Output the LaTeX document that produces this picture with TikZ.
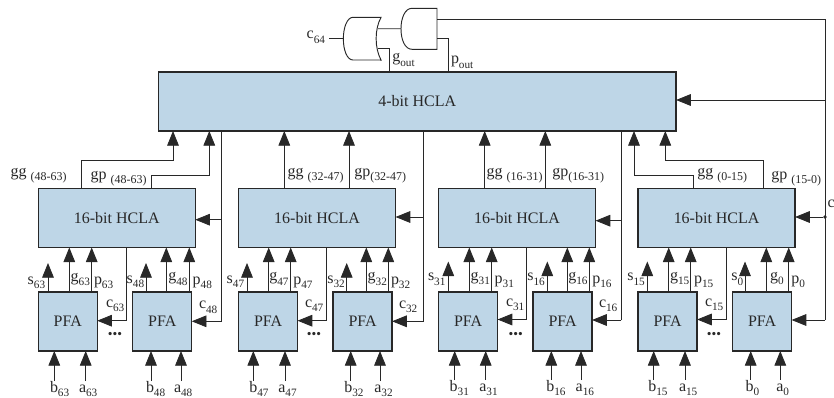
\documentclass[tikz,border=0pt]{standalone}
\usepackage{fontspec}
\setmainfont{Liberation Serif}
\usepackage{xcolor}
\usetikzlibrary{positioning,arrows.meta}
\definecolor{boxcolor}{RGB}{190,214,231}
\definecolor{inkcolor}{RGB}{40,40,40}
\newcommand{\lsub}[2]{#1\raisebox{-4pt}{\fontsize{9.6}{11}\selectfont #2}}
\newcommand{\lgrp}[2]{#1\raisebox{-3pt}{\fontsize{10.2}{12}\selectfont #2}}

\begin{document}
\begin{tikzpicture}[x=0.03cm,y=-0.03cm,
font=\fontsize{13.65}{15}\selectfont,text=inkcolor,
box/.style={draw=inkcolor,fill=boxcolor,line width=1.2pt,outer sep=0pt,inner sep=0pt,minimum height=1.77cm},
hcla/.style={box,minimum width=4.71cm},
pfa/.style={box,minimum width=1.77cm},
lbl/.style={anchor=base west,inner sep=0pt,outer sep=0pt},
gate/.style={inner sep=0pt,outer sep=0pt},
wire/.style={draw=inkcolor,line width=0.7pt},
gline/.style={draw=inkcolor,line width=0.8pt},
arr/.style={wire,-{Triangle[length=0.44cm,width=0.35cm]}},
joint/.style={circle,fill=inkcolor,inner sep=0pt,minimum size=0.11cm},
more/.style={inner sep=0pt,font=\fontsize{11.5}{12}\selectfont}]
\useasboundingbox (0,0) rectangle (834,398);
\node[box,minimum width=15.53cm] (top) at (417.25,101.5) {4-bit HCLA};
\node[hcla] (h48) at (116.75,218) {16-bit HCLA};
\node[hcla,right=1.3cm of h48] (h32) {16-bit HCLA};
\node[hcla,right=1.29cm of h32] (h16) {16-bit HCLA};
\node[hcla,right=1.275cm of h16] (h0) {16-bit HCLA};
\node[pfa,below right=1.335cm and 0cm of h48.south west] (p63) {PFA};
\node[pfa,right=1.065cm of p63] (p48) {PFA};
\node[pfa,below right=1.335cm and 0cm of h32.south west] (p47) {PFA};
\node[pfa,right=1.065cm of p47] (p32) {PFA};
\node[pfa,below right=1.335cm and 0cm of h16.south west] (p31) {PFA};
\node[pfa,right=1.065cm of p31] (p16) {PFA};
\node[pfa,below right=1.335cm and 0cm of h0.south west] (p15) {PFA};
\node[pfa,right=1.065cm of p15] (p0) {PFA};
\node[more] (d63) at (115,335.3) {•••};
\node[more] (d47) at (314,335.3) {•••};
\node[more] (d31) at (515.7,335.3) {•••};
\node[more] (d15) at (714,335.3) {•••};

\node[gate,minimum width=1.13cm,minimum height=1.28cm] (org) at (362.2,38.7) {};
\node[gate,minimum width=1.08cm,minimum height=1.23cm] (andg) at (419,28.8) {};
\draw[gline] (org.north east) -- (353,17.3) .. controls (347,17.3) and (343.3,28) .. (org.west) .. controls (343.3,50) and (347,60) .. (353,60) -- (org.south east) .. controls (374.5,48) and (374.5,29) .. (org.north east) -- cycle;
\draw[gline] (andg.north east) -- (412,8.3) .. controls (405,8.3) and (401,18) .. (andg.west) .. controls (401,40) and (405,49.3) .. (412,49.3) -- (andg.south east) -- cycle;
\coordinate (orin1) at (378,28.7);
\coordinate (orin2) at (378,48);
\coordinate (andin1) at (437,19);
\coordinate (andin2) at (437,38.5);
\coordinate (ctop) at (825,100);
\coordinate (cbot) at (825,320);
\node[joint] (cin) at (825,217) {};
\node[lbl] (c64) at (306.7,39) {\lsub{c}{64}};
\node[lbl] (gout) at (392.3,62) {\lsub{g}{out}};
\node[lbl] (pout) at (451,64) {\lsub{p}{out}};
\node[lbl] (cinl) at (827.5,207.3) {c};
\draw[wire] (c64.east |- org.west) ++(3.4pt,0) -- (org.west);
\draw[wire] (andg.west) -- (orin1);
\draw[wire] (389.3,0 |- top.north) |- (orin2);
\draw[wire] (448.5,0 |- top.north) |- (andin2);
\draw[wire] (andin1) -| (cbot);
\draw[arr] (ctop) -- (top.east |- ctop);
\draw[arr] (cin) -- (h0.east |- cin);
\draw[arr] (cbot) -- (p0.east |- cbot);

\node[lbl] (gg48) at (10.7,177) {\lgrp{gg\ }{(48-63)}};
\node[lbl] (gp48) at (90.7,180) {\lgrp{gp\ }{(48-63)}};
\node[lbl] (gg32) at (287.7,177) {\lgrp{gg\ }{(32-47)}};
\node[lbl] (gp32) at (354.3,177) {\lgrp{gp}{(32-47)}};
\node[lbl] (gg16) at (486.7,177) {\lgrp{gg\ }{(16-31)}};
\node[lbl] (gp16) at (552.3,177) {\lgrp{gp}{(16-31)}};
\node[lbl] (gg0) at (697.3,177) {\lgrp{gg\ }{(0-15)}};
\node[lbl] (gp0) at (771.3,180) {\lgrp{gp\ }{(15-0)}};
\draw[arr] (81.3,0 |- h48.north) |- (173,160) -- (173,0 |- top.south);
\draw[arr] (151.3,0 |- h48.north) |- (209.3,175.3) -- (209.3,0 |- top.south);
\draw[arr] (284.3,0 |- h32.north) -- (284.3,0 |- top.south);
\draw[arr] (349,0 |- h32.north) -- (349,0 |- top.south);
\draw[arr] (484.7,0 |- h16.north) -- (484.7,0 |- top.south);
\draw[arr] (545.3,0 |- h16.north) -- (545.3,0 |- top.south);
\draw[arr] (693.3,0 |- h0.north) |- (634,175) -- (634,0 |- top.south);
\draw[arr] (763.7,0 |- h0.north) |- (665.3,160) -- (665.3,0 |- top.south);

\draw[wire] (221.7,0 |- top.south) -- (221.7,321.3);
\draw[arr] (221.7,219.7) -- (h48.east |- 0,219.7);
\draw[arr] (221.7,321.3) -- (p48.east |- 0,321.3);
\draw[wire] (423.7,0 |- top.south) -- (423.7,321.3);
\draw[arr] (423.7,217) -- (h32.east |- 0,217);
\draw[arr] (423.7,321.3) -- (p32.east |- 0,321.3);
\draw[wire] (621.3,0 |- top.south) -- (621.3,320);
\draw[arr] (621.3,220.7) -- (h16.east |- 0,220.7);
\draw[arr] (621.3,320) -- (p16.east |- 0,320);
\draw[arr] (126.3,0 |- h48.south) |- (p63.east |- 0,320.7);
\draw[arr] (326.3,0 |- h32.south) |- (p47.east |- 0,320.7);
\draw[arr] (526.7,0 |- h16.south) |- (p31.east |- 0,319.5);
\draw[arr] (726.7,0 |- h0.south) |- (p15.east |- 0,319.5);
\node[lbl] (c63) at (106,307.3) {\lsub{c}{63}};
\node[lbl] (c48) at (199,308.7) {\lsub{c}{48}};
\node[lbl] (c47) at (305,307) {\lsub{c}{47}};
\node[lbl] (c32) at (399,308) {\lsub{c}{32}};
\node[lbl] (c31) at (506,306.3) {\lsub{c}{31}};
\node[lbl] (c16) at (599,307.3) {\lsub{c}{16}};
\node[lbl] (c15) at (705,306.3) {\lsub{c}{15}};

\node[lbl] (s63) at (27.7,284) {\lsub{s}{63}};
\node[lbl] (g63) at (70.7,281.3) {\lsub{g}{63}};
\node[lbl] (t63) at (94,284) {\lsub{p}{63}};
\node[lbl] (s48) at (126.7,283) {\lsub{s}{48}};
\node[lbl] (g48) at (168.3,281) {\lsub{g}{48}};
\node[lbl] (t48) at (192.7,284) {\lsub{p}{48}};
\node[lbl] (s47) at (226.7,283) {\lsub{s}{47}};
\node[lbl] (g47) at (269.3,281) {\lsub{g}{47}};
\node[lbl] (t47) at (293.3,284) {\lsub{p}{47}};
\node[lbl] (s32) at (327.3,283) {\lsub{s}{32}};
\node[lbl] (g32) at (367.7,281) {\lsub{g}{32}};
\node[lbl] (t32) at (391,284) {\lsub{p}{32}};
\node[lbl] (s31) at (428,281) {\lsub{s}{31}};
\node[lbl] (g31) at (470.7,280) {\lsub{g}{31}};
\node[lbl] (t31) at (494.7,283) {\lsub{p}{31}};
\node[lbl] (s16) at (527.3,281) {\lsub{s}{16}};
\node[lbl] (g16) at (568.3,280) {\lsub{g}{16}};
\node[lbl] (t16) at (592.3,283) {\lsub{p}{16}};
\node[lbl] (s15) at (627.3,281) {\lsub{s}{15}};
\node[lbl] (g15) at (670,280) {\lsub{g}{15}};
\node[lbl] (t15) at (694,283) {\lsub{p}{15}};
\node[lbl] (s0) at (731.3,281) {\lsub{s}{0}};
\node[lbl] (g0) at (770,280) {\lsub{g}{0}};
\node[lbl] (t0) at (791.3,283) {\lsub{p}{0}};
\draw[arr] (48,0 |- p63.north) -- (48,263);
\draw[arr] (69.3,0 |- p63.north) -- (69.3,0 |- h48.south); \draw[arr] (91.7,0 |- p63.north) -- (91.7,0 |- h48.south);
\draw[arr] (146,0 |- p48.north) -- (146,263);
\draw[arr] (166.3,0 |- p48.north) -- (166.3,0 |- h48.south); \draw[arr] (189.3,0 |- p48.north) -- (189.3,0 |- h48.south);
\draw[arr] (247,0 |- p47.north) -- (247,263);
\draw[arr] (268.7,0 |- p47.north) -- (268.7,0 |- h32.south); \draw[arr] (290.7,0 |- p47.north) -- (290.7,0 |- h32.south);
\draw[arr] (346.7,0 |- p32.north) -- (346.7,263);
\draw[arr] (366.3,0 |- p32.north) -- (366.3,0 |- h32.south); \draw[arr] (388.3,0 |- p32.north) -- (388.3,0 |- h32.south);
\draw[arr] (448.3,0 |- p31.north) -- (448.3,261.5);
\draw[arr] (469.3,0 |- p31.north) -- (469.3,0 |- h16.south); \draw[arr] (491.7,0 |- p31.north) -- (491.7,0 |- h16.south);
\draw[arr] (547.3,0 |- p16.north) -- (547.3,261.5);
\draw[arr] (567.3,0 |- p16.north) -- (567.3,0 |- h16.south); \draw[arr] (589.3,0 |- p16.north) -- (589.3,0 |- h16.south);
\draw[arr] (647.3,0 |- p15.north) -- (647.3,261.5);
\draw[arr] (668.7,0 |- p15.north) -- (668.7,0 |- h0.south); \draw[arr] (690.7,0 |- p15.north) -- (690.7,0 |- h0.south);
\draw[arr] (745,0 |- p0.north) -- (745,261.5);
\draw[arr] (766.3,0 |- p0.north) -- (766.3,0 |- h0.south); \draw[arr] (788.7,0 |- p0.north) -- (788.7,0 |- h0.south);

\node[lbl] (b63) at (50,392) {\lsub{b}{63}};
\node[lbl] (a63) at (79,392) {\lsub{a}{63}};
\node[lbl] (b48) at (146,392) {\lsub{b}{48}};
\node[lbl] (a48) at (174,392) {\lsub{a}{48}};
\node[lbl] (b47) at (249.3,392) {\lsub{b}{47}};
\node[lbl] (a47) at (278.3,392) {\lsub{a}{47}};
\node[lbl] (b32) at (344.3,392) {\lsub{b}{32}};
\node[lbl] (a32) at (374.3,392) {\lsub{a}{32}};
\node[lbl] (b31) at (449.7,391) {\lsub{b}{31}};
\node[lbl] (a31) at (479.3,391) {\lsub{a}{31}};
\node[lbl] (b16) at (546.3,391) {\lsub{b}{16}};
\node[lbl] (a16) at (575.7,391) {\lsub{a}{16}};
\node[lbl] (b15) at (648.3,391) {\lsub{b}{15}};
\node[lbl] (a15) at (679,391) {\lsub{a}{15}};
\node[lbl] (b0) at (745.7,391) {\lsub{b}{0}};
\node[lbl] (a0) at (776.3,391) {\lsub{a}{0}};
\draw[arr] (54.3,381) -- (54.3,0 |- p63.south); \draw[arr] (85.7,381) -- (85.7,0 |- p63.south);
\draw[arr] (151,381) -- (151,0 |- p48.south); \draw[arr] (181,381) -- (181,0 |- p48.south);
\draw[arr] (253.3,381) -- (253.3,0 |- p47.south); \draw[arr] (285,381) -- (285,0 |- p47.south);
\draw[arr] (350.7,381) -- (350.7,0 |- p32.south); \draw[arr] (380,381) -- (380,0 |- p32.south);
\draw[arr] (454.7,380) -- (454.7,0 |- p31.south); \draw[arr] (485.7,380) -- (485.7,0 |- p31.south);
\draw[arr] (551.3,380) -- (551.3,0 |- p16.south); \draw[arr] (581,380) -- (581,0 |- p16.south);
\draw[arr] (653.7,380) -- (653.7,0 |- p15.south); \draw[arr] (685,380) -- (685,0 |- p15.south);
\draw[arr] (750.7,380) -- (750.7,0 |- p0.south); \draw[arr] (780.3,380) -- (780.3,0 |- p0.south);
\end{tikzpicture}
\end{document}
